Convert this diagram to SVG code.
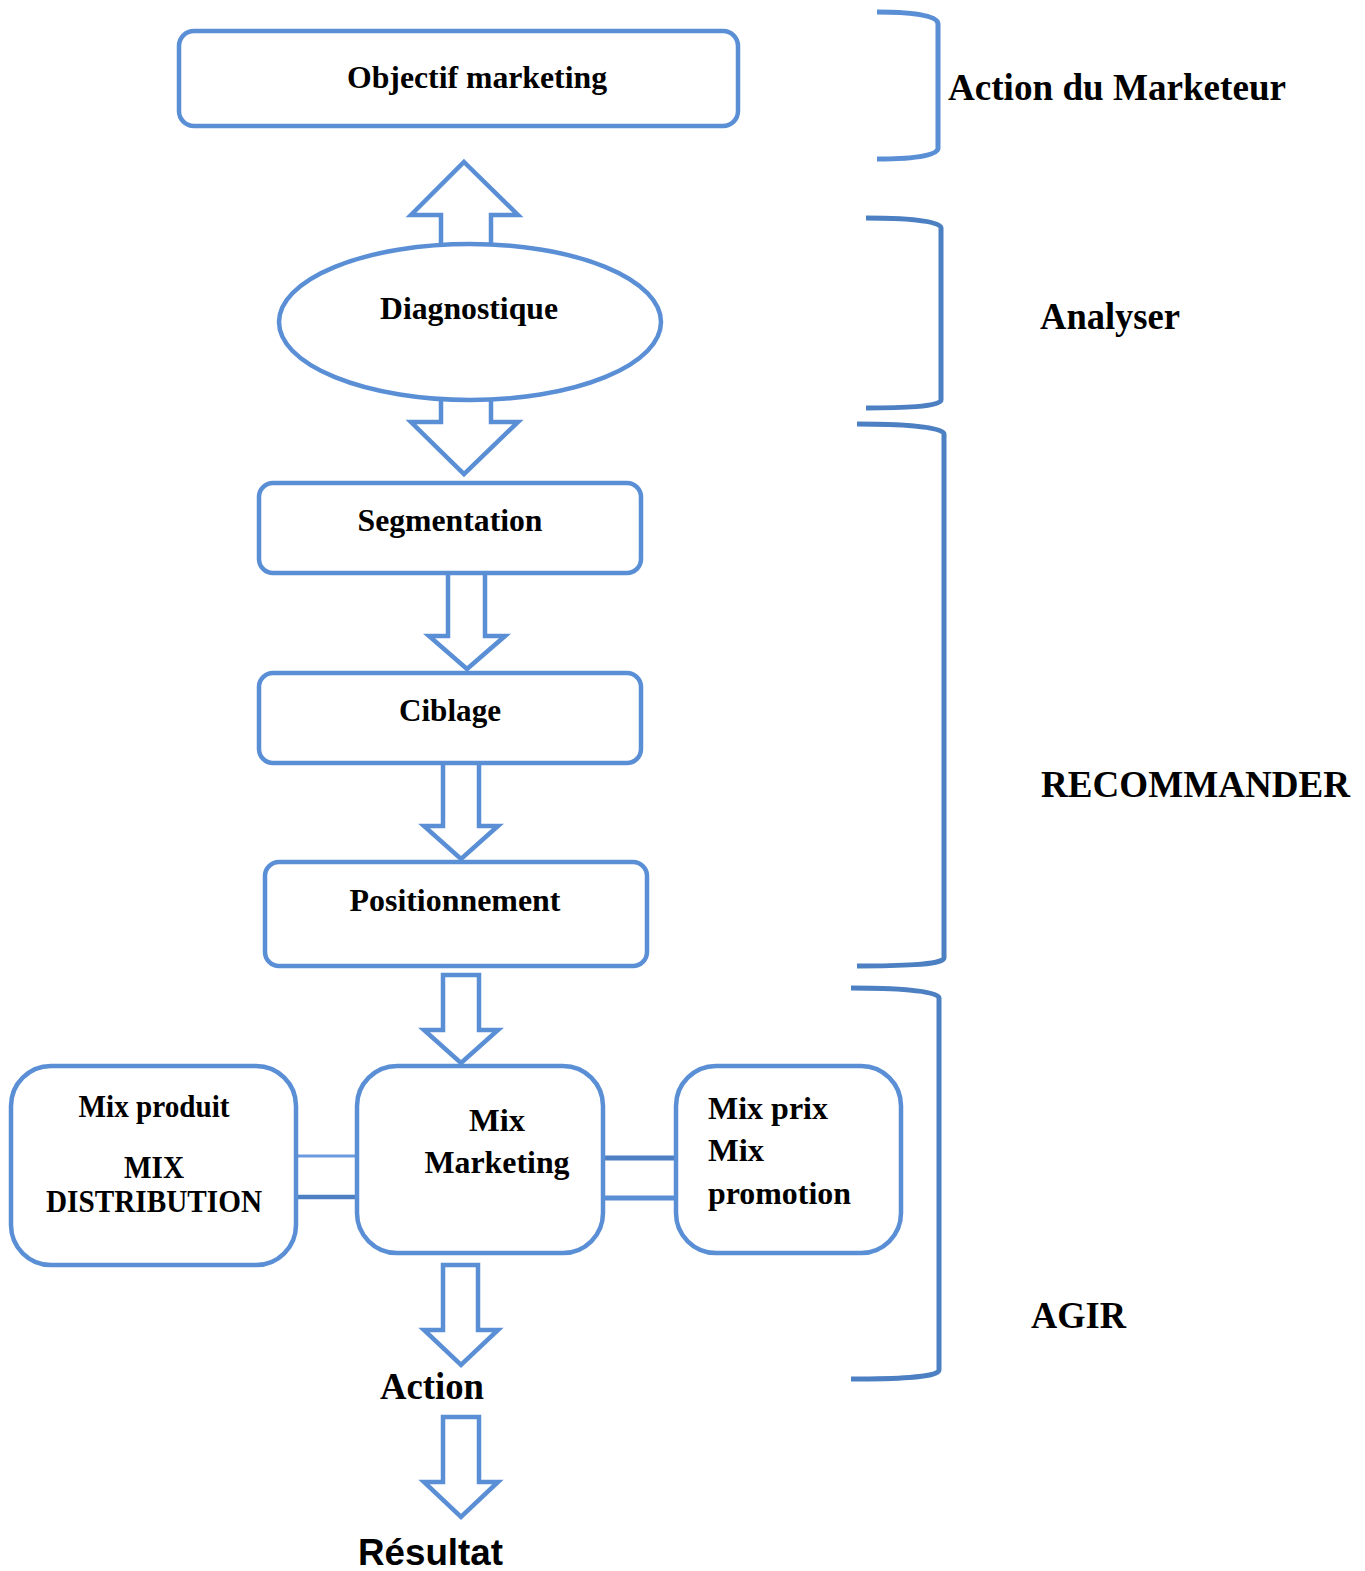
<svg xmlns="http://www.w3.org/2000/svg" width="1365" height="1571" viewBox="0 0 1365 1571">
<style>
.box{fill:#fff;stroke:#5a8fd6;stroke-width:4.5}
.arr{fill:#fff;stroke:#5a8fd6;stroke-width:4.5;stroke-linejoin:miter}
.br{fill:none;stroke:#4d80c2;stroke-width:5}
.br1{fill:none;stroke:#5a8fd6;stroke-width:5}
.t{font-family:"Liberation Serif","Times New Roman",serif;font-weight:bold;fill:#000}
.s{font-family:"Liberation Sans",Arial,sans-serif;font-weight:bold;fill:#000}
.c{fill:none}
</style>
<rect width="1365" height="1571" fill="#fff"/>
<g id="brackets">
<path class="br1" d="M877,12 C905,12 938,14 938,24 L938,148 C938,157 905,159 877,159"/>
<path class="br" d="M866,218 C900,218 941,220 941,228 L941,400 C941,407 900,408 866,408"/>
<path class="br" d="M857,424 C895,424 944,426 944,434 L944,958 C944,965 895,966 857,966"/>
<path class="br" d="M851,988 C890,988 939,990 939,998 L939,1370 C939,1378 890,1379 851,1379"/>
</g>
<g id="connectors">
<polygon class="arr" points="464,162 518,215 491,215 491,246 441,246 441,215 411,215"/>
<polygon class="arr" points="441,398 491,398 491,422 518,422 464,474 411,422 441,422"/>
<polygon class="arr" points="448,571 485,571 485,636 505,636 467,669 429,636 448,636"/>
<polygon class="arr" points="443,760 479,760 479,826 498,826 461,859 424,826 443,826"/>
<polygon class="arr" points="443,975 479,975 479,1030 498,1030 461,1063 424,1030 443,1030"/>
<polygon class="arr" points="443,1265 478,1265 478,1330 498,1330 461,1365 424,1330 443,1330"/>
<polygon class="arr" points="443,1417 479,1417 479,1482 498,1482 461,1517 424,1482 443,1482"/>
<line class="c" x1="296" y1="1156" x2="357" y2="1156" stroke-width="3" stroke="#6b9ade"/>
<line class="c" x1="296" y1="1197" x2="357" y2="1197" stroke-width="4.5" stroke="#4d80c2"/>
<line class="c" x1="603" y1="1158" x2="676" y2="1158" stroke-width="5" stroke="#4d80c2"/>
<line class="c" x1="603" y1="1198" x2="676" y2="1198" stroke-width="5" stroke="#5a8fd6"/>
</g>
<g id="objectif">
<rect class="box" x="179" y="31" width="559" height="95" rx="15"/>
<text class="t" x="477" y="88" font-size="32" text-anchor="middle" textLength="260" lengthAdjust="spacingAndGlyphs">Objectif marketing</text>
</g>
<g id="diagnostique">
<ellipse class="box" cx="470" cy="322" rx="191" ry="78"/>
<text class="t" x="469" y="319" font-size="32" text-anchor="middle" textLength="178" lengthAdjust="spacingAndGlyphs">Diagnostique</text>
</g>
<g id="segmentation">
<rect class="box" x="259" y="483" width="382" height="90" rx="14"/>
<text class="t" x="450" y="531" font-size="32" text-anchor="middle" textLength="185" lengthAdjust="spacingAndGlyphs">Segmentation</text>
</g>
<g id="ciblage">
<rect class="box" x="259" y="673" width="382" height="90" rx="14"/>
<text class="t" x="450" y="721" font-size="32" text-anchor="middle" textLength="102" lengthAdjust="spacingAndGlyphs">Ciblage</text>
</g>
<g id="positionnement">
<rect class="box" x="265" y="862" width="382" height="104" rx="14"/>
<text class="t" x="455" y="911" font-size="32" text-anchor="middle" textLength="211" lengthAdjust="spacingAndGlyphs">Positionnement</text>
</g>
<g id="mixproduit">
<rect class="box" x="11" y="1066" width="285" height="199" rx="40"/>
<text class="t" x="154" y="1117" font-size="31" text-anchor="middle" textLength="151" lengthAdjust="spacingAndGlyphs">Mix produit</text>
<text class="t" x="154" y="1178" font-size="31" text-anchor="middle" textLength="60" lengthAdjust="spacingAndGlyphs">MIX</text>
<text class="t" x="154" y="1212" font-size="31" text-anchor="middle" textLength="216" lengthAdjust="spacingAndGlyphs">DISTRIBUTION</text>
</g>
<g id="mixmarketing">
<rect class="box" x="357" y="1066" width="246" height="187" rx="40"/>
<text class="t" x="497" y="1131" font-size="32" text-anchor="middle" textLength="56" lengthAdjust="spacingAndGlyphs">Mix</text>
<text class="t" x="497" y="1173" font-size="32" text-anchor="middle" textLength="145" lengthAdjust="spacingAndGlyphs">Marketing</text>
</g>
<g id="mixprix">
<rect class="box" x="676" y="1066" width="225" height="187" rx="40"/>
<text class="t" x="708" y="1119" font-size="32" textLength="120" lengthAdjust="spacingAndGlyphs">Mix prix</text>
<text class="t" x="708" y="1161" font-size="32" textLength="56" lengthAdjust="spacingAndGlyphs">Mix</text>
<text class="t" x="708" y="1204" font-size="32" textLength="143" lengthAdjust="spacingAndGlyphs">promotion</text>
</g>
<g id="labels">
<text class="t" x="948" y="100" font-size="37" textLength="338" lengthAdjust="spacingAndGlyphs">Action du Marketeur</text>
<text class="t" x="1040" y="329" font-size="37" textLength="140" lengthAdjust="spacingAndGlyphs">Analyser</text>
<text class="t" x="1041" y="797" font-size="37" textLength="309" lengthAdjust="spacingAndGlyphs">RECOMMANDER</text>
<text class="t" x="1031" y="1328" font-size="37" textLength="95" lengthAdjust="spacingAndGlyphs">AGIR</text>
</g>
<g id="action">
<text class="t" x="380" y="1399" font-size="37" textLength="104" lengthAdjust="spacingAndGlyphs">Action</text>
</g>
<g id="resultat">
<text class="s" x="358" y="1565" font-size="37" textLength="145" lengthAdjust="spacingAndGlyphs">Résultat</text>
</g>
</svg>
